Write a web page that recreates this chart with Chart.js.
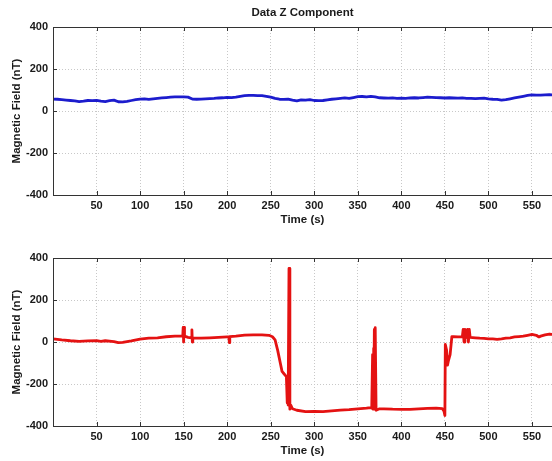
<!DOCTYPE html>
<html>
<head>
<meta charset="utf-8">
<script src="https://cdn.jsdelivr.net/npm/chart.js@4/dist/chart.umd.min.js"></script>
<style>
  html, body { margin: 0; padding: 0; background: #ffffff; }
  #wrap { position: relative; width: 552px; height: 461px; overflow: hidden; }
  canvas { position: absolute; left: 0; }
  #c1 { top: 0; }
  #c2 { top: 230px; }
</style>
</head>
<body>
<div id="wrap">
  <canvas id="c1" width="552" height="230"></canvas>
  <canvas id="c2" width="552" height="231"></canvas>
</div>
<script>
// ---------- data ----------
const chartTitle = "Data Z Component";
const xAxisTitle = "Time (s)";
const yAxisTitle = "Magnetic Field (nT)";
const xTickValues = [50, 100, 150, 200, 250, 300, 350, 400, 450, 500, 550];
const yTickValues = [-400, -200, 0, 200, 400];

const timeTop = [0,5,10,15,20,25,30,35,40,45,50,55,60,65,70,75,80,85,90,95,100,105,110,115,120,125,130,135,140,145,150,155,160,165,170,175,180,185,190,195,200,205,210,215,220,225,230,235,240,245,250,255,260,265,270,275,280,285,290,295,300,305,310,315,320,325,330,335,340,345,350,355,360,365,370,375,380,385,390,395,400,405,410,415,420,425,430,435,440,445,450,455,460,465,470,475,480,485,490,495,500,505,510,515,520,525,530,535,540,545,550,555,560,565,570,573];
const fieldTop = [57,56,54,52,50,48,45,47,50,49,51,47,45,49,52,44,43,46,50,54,57,58,55,58,60,62,64,66,67,67,67,66,57,56,57,58,59,60,62,63,65,64,66,70,73,74,74,73,73,70,66,60,56,55,57,52,48,53,52,54,50,49,50,53,56,58,60,62,60,64,68,69,67,70,67,63,62,61,62,60,61,60,62,63,62,64,66,65,64,63,62,63,62,61,62,60,60,59,60,61,58,56,55,52,54,58,62,66,70,74,77,76,76,77,78,77];

const timeBottom = [0,10,20,30,40,50,55,60,70,75,80,90,100,110,120,130,140,149,149.5,150,150.5,151,155,159,159.5,160,160.5,170,180,190,200,202,202.5,203,210,220,230,240,248,252,255,258,261,263,265,267,268,269,269.5,270,271,272,273,275,280,290,300,310,320,330,340,350,360,365,366,367,367.5,368,368.5,369,369.5,370,371,372,375,380,390,400,410,420,430,440,447,449,450,450.5,452,453,454,456,458,460,465,470,471,472,473,474,476,477,478,479,485,490,495,500,505,510,515,520,525,530,535,540,545,550,555,558,560,565,570,573];
const fieldBottom = [15,10,6,3,5,7,3,6,2,-3,-2,5,14,18,20,25,28,28,70,0,70,28,22,20,58,0,20,18,20,22,24,24,-3,26,28,33,34,34,32,25,10,-40,-100,-140,-150,-160,-165,-290,-170,-300,350,-320,-300,-318,-325,-332,-330,-332,-328,-324,-322,-318,-315,-312,-315,-60,-320,-30,-320,60,-300,68,-325,-325,-318,-318,-320,-321,-321,-318,-316,-315,-317,-330,-350,-12,-40,-110,-90,-60,25,25,24,24,60,0,60,20,60,0,60,22,20,18,17,15,15,13,15,18,20,24,26,28,32,36,32,24,28,34,38,36];

const xMin = 0, xMax = 573, yMin = -400, yMax = 400;

// ---------- helpers ----------
const FONT = '"Liberation Sans", Arial, sans-serif';
const textColor = '#1a1a1a';

function pts(xs, ys) { return xs.map((x, i) => ({ x: x, y: ys[i] })); }

const framePlugin = {
  id: 'frame',
  afterDraw(chart, args, opts) {
    const { ctx, chartArea: a, scales } = chart;
    ctx.save();
    ctx.strokeStyle = '#333333';
    ctx.lineWidth = 1;
    ctx.beginPath();
    ctx.moveTo(a.right + 1, Math.round(a.top) + 0.5);
    ctx.lineTo(Math.round(a.left) + 0.5, Math.round(a.top) + 0.5);
    ctx.lineTo(Math.round(a.left) + 0.5, Math.round(a.bottom) + 0.5);
    ctx.lineTo(a.right + 1, Math.round(a.bottom) + 0.5);
    ctx.stroke();
    ctx.beginPath();
    scales.x.ticks.forEach(t => {
      const px = Math.round(scales.x.getPixelForValue(t.value)) + 0.5;
      ctx.moveTo(px, a.bottom); ctx.lineTo(px, a.bottom - 4);
      ctx.moveTo(px, a.top); ctx.lineTo(px, a.top + 4);
    });
    scales.y.ticks.forEach(t => {
      const py = Math.round(scales.y.getPixelForValue(t.value)) + 0.5;
      ctx.moveTo(a.left, py); ctx.lineTo(a.left + 4, py);
    });
    ctx.stroke();
    ctx.fillStyle = textColor;
    ctx.font = 'bold 11.5px ' + FONT;
    ctx.textAlign = 'center';
    ctx.textBaseline = 'middle';
    const cx = (a.left + a.right) / 2;
    ctx.fillText(xAxisTitle, cx, a.bottom + 25);
    ctx.save();
    ctx.translate(17, (a.top + a.bottom) / 2);
    ctx.rotate(-Math.PI / 2);
    ctx.fillText(yAxisTitle, 0, 0);
    ctx.restore();
    if (opts.title) {
      ctx.fillText(opts.title, cx, 13);
    }
    ctx.restore();
  }
};

function makeChart(id, times, values, color, titleText, padTop, axisH) {
  return new Chart(document.getElementById(id), {
    type: 'line',
    data: {
      datasets: [{
        data: pts(times, values),
        borderColor: color,
        borderWidth: 2.8,
        borderJoinStyle: 'round',
        borderCapStyle: 'round',
        pointRadius: 0,
        tension: 0,
        fill: false
      }]
    },
    options: {
      responsive: false,
      animation: false,
      devicePixelRatio: 1,
      layout: { padding: { top: padTop, right: 0, left: 0, bottom: 0 } },
      plugins: {
        legend: { display: false },
        tooltip: { enabled: false },
        title: { display: false },
        frame: { title: titleText }
      },
      scales: {
        x: {
          type: 'linear',
          min: xMin, max: xMax,
          afterBuildTicks: s => { s.ticks = xTickValues.map(v => ({ value: v })); },
          afterFit: s => { s.height = axisH; },
          ticks: {
            font: { family: FONT, size: 11, weight: 'bold' },
            color: textColor,
            padding: 4,
            maxRotation: 0,
            autoSkip: false
          },
          grid: { color: '#c8c8c8', lineWidth: 1, drawTicks: false },
          border: { display: false, dash: [1, 2] }
        },
        y: {
          type: 'linear',
          min: yMin, max: yMax,
          afterBuildTicks: s => { s.ticks = yTickValues.map(v => ({ value: v })); },
          afterFit: s => { s.width = 53; },
          ticks: {
            font: { family: FONT, size: 11, weight: 'bold' },
            color: textColor,
            padding: 5
          },
          grid: { color: '#c8c8c8', lineWidth: 1, drawTicks: false },
          border: { display: false, dash: [1, 2] }
        }
      }
    },
    plugins: [framePlugin]
  });
}

makeChart('c1', timeTop, fieldTop, 'rgb(28,28,205)', chartTitle, 27, 35);
makeChart('c2', timeBottom, fieldBottom, 'rgb(228,18,18)', null, 28, 35);
</script>
</body>
</html>
